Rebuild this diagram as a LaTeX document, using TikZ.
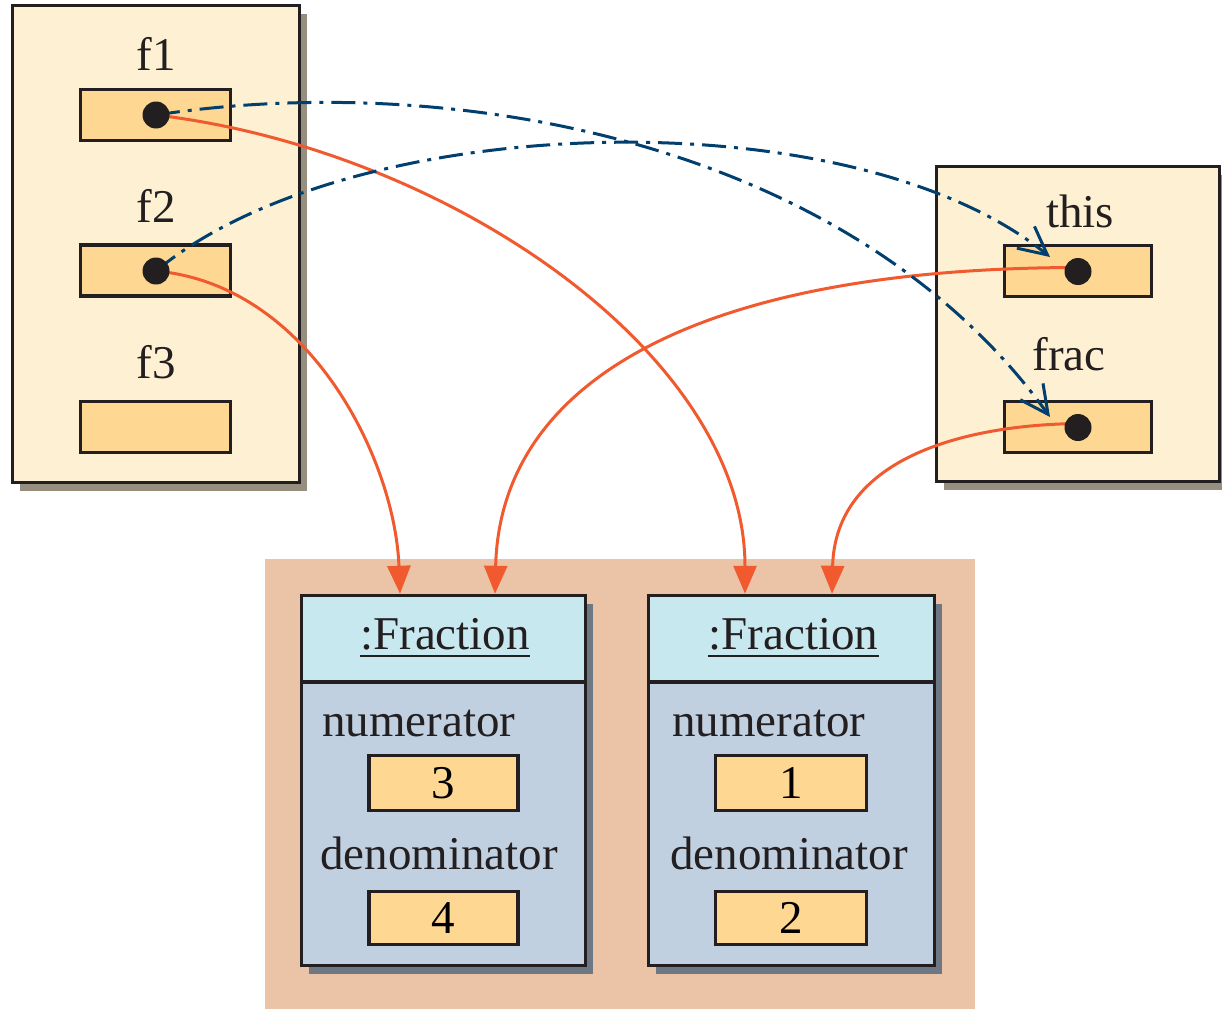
\documentclass[tikz,border=0pt]{standalone}
\usepackage{fontspec}
\setmainfont{Liberation Serif}
\usetikzlibrary{arrows.meta,shadows}
\pgfdeclarelayer{front}
\pgfsetlayers{main,front}
\definecolor{boxfill}{HTML}{FEF0D2}
\definecolor{slotfill}{HTML}{FED892}
\definecolor{shadowA}{HTML}{968F80}
\definecolor{peach}{HTML}{EBC4A8}
\definecolor{hdr}{HTML}{C8E8F0}
\definecolor{bodyfill}{HTML}{C0D0E0}
\definecolor{shadowB}{HTML}{6E7884}
\definecolor{refc}{HTML}{F15A2F}
\definecolor{dblue}{HTML}{003F6E}
\definecolor{ink}{HTML}{231F20}
\tikzset{
  frame/.style={draw=ink, line width=3.5pt, inner sep=0pt},
  varbox/.style={frame, fill=boxfill, general shadow={fill=shadowA, shadow xshift=7pt, shadow yshift=-8pt}},
  objbox/.style={frame, fill=bodyfill, general shadow={fill=shadowB, shadow xshift=7pt, shadow yshift=-8pt}},
  hdrbox/.style={frame, fill=hdr},
  slot/.style={frame, fill=slotfill, font=\bigtxt},
  dotnode/.style={circle, fill=ink, minimum size=27pt, inner sep=0pt},
  txt/.style={inner sep=0pt, font=\bigtxt, text=ink},
  oref/.style={draw=refc, line width=3pt, -{Triangle[length=28pt,width=23pt]}},
  bref/.style={draw=dblue, line width=3pt, dash pattern=on 24pt off 8pt on 4pt off 8pt, -{Straight Barb[length=28pt,width=28pt]}},
}
\newcommand{\bigtxt}{\fontsize{47}{50}\selectfont}
\begin{document}
\begin{tikzpicture}[x=1pt,y=-1pt]
\useasboundingbox (0,0) rectangle (1222,1009);
% stack frames
\node[varbox, minimum width=287pt, minimum height=477pt] (mainframe) at (156,244) {};
\node[varbox, minimum width=283pt, minimum height=315pt] (addframe) at (1078,324) {};
% labels
\node[txt, anchor=base] (lf1) at (156,70) {f1};
\node[txt, anchor=base] (lf2) at (156,222) {f2};
\node[txt, anchor=base] (lf3) at (156,378) {f3};
\node[txt, anchor=base] (lthis) at (1080,227) {this};
\node[txt, anchor=base] (lfrac) at (1069,370) {frac};
% slots
\node[slot, minimum width=150pt, minimum height=51pt] (s1) at (155.5,115) {};
\node[slot, minimum width=150pt, minimum height=51pt] (s2) at (155.5,270.5) {};
\node[slot, minimum width=150pt, minimum height=51pt] (s3) at (155.5,427) {};
\node[slot, minimum width=147pt, minimum height=51pt] (sthis) at (1078,271) {};
\node[slot, minimum width=147pt, minimum height=51pt] (sfrac) at (1078,427) {};
% heap
\node[fill=peach, inner sep=0pt, minimum width=710pt, minimum height=450pt] (heap) at (620,784) {};
\node[objbox, minimum width=284pt, minimum height=370pt] (obj1) at (443.5,780.5) {};
\node[objbox, minimum width=286pt, minimum height=370pt] (obj2) at (791.5,780.5) {};
\node[hdrbox, minimum width=284pt, minimum height=86.5pt] (h1) at (443.5,638.75) {};
\node[hdrbox, minimum width=286pt, minimum height=86.5pt] (h2) at (791.5,638.75) {};
\node[txt, anchor=base] (t1) at (445,649) {:Fraction};
\node[txt, anchor=base] (t2) at (793.5,649) {:Fraction};
\draw[ink, line width=2.2pt] ([yshift=-7pt]t1.base west) -- ([yshift=-7pt]t1.base east);
\draw[ink, line width=2.2pt] ([yshift=-7pt]t2.base west) -- ([yshift=-7pt]t2.base east);
\node[txt, anchor=base west] (n1) at (322,736) {numerator};
\node[txt, anchor=base west] (n2) at (672,736) {numerator};
\node[txt, anchor=base west] (d1) at (320,869) {denominator};
\node[txt, anchor=base west] (d2) at (670,869) {denominator};
\node[slot, minimum width=149pt, minimum height=55pt] (v1) at (443.5,783) {3};
\node[slot, minimum width=149pt, minimum height=53pt] (v2) at (443.5,918) {4};
\node[slot, minimum width=151pt, minimum height=55pt] (v3) at (791,783) {1};
\node[slot, minimum width=151pt, minimum height=53pt] (v4) at (791,918) {2};
% dots on front layer
\begin{pgfonlayer}{front}
\node[dotnode] (dot1) at (156,115) {};
\node[dotnode] (dot2) at (156,271) {};
\node[dotnode] (dot3) at (1078,271.5) {};
\node[dotnode] (dot4) at (1078,427.5) {};
\end{pgfonlayer}
% reference arrows
\draw[oref] (dot1.center) .. controls (450,150) and (745,355) .. ([xshift=-46.5pt]obj2.north);
\draw[oref] (dot2.center) .. controls (310,285) and (395,460) .. ([xshift=-43.5pt]obj1.north);
\draw[oref] ([yshift=4pt]dot3.center) .. controls (700,268) and (500,380) .. ([xshift=51.5pt]obj1.north);
\draw[oref] ([yshift=4pt]dot4.center) .. controls (960,425) and (835,460) .. ([xshift=40.5pt]obj2.north);
% parameter passing
\draw[bref] (dot1.center) .. controls (450,70) and (850,140) .. ([shift={(-28,-10)}]sfrac.center);
\draw[bref] (dot2.center) .. controls (350,110) and (850,95) .. ([shift={(-28,-14)}]sthis.center);
\end{tikzpicture}
\end{document}
